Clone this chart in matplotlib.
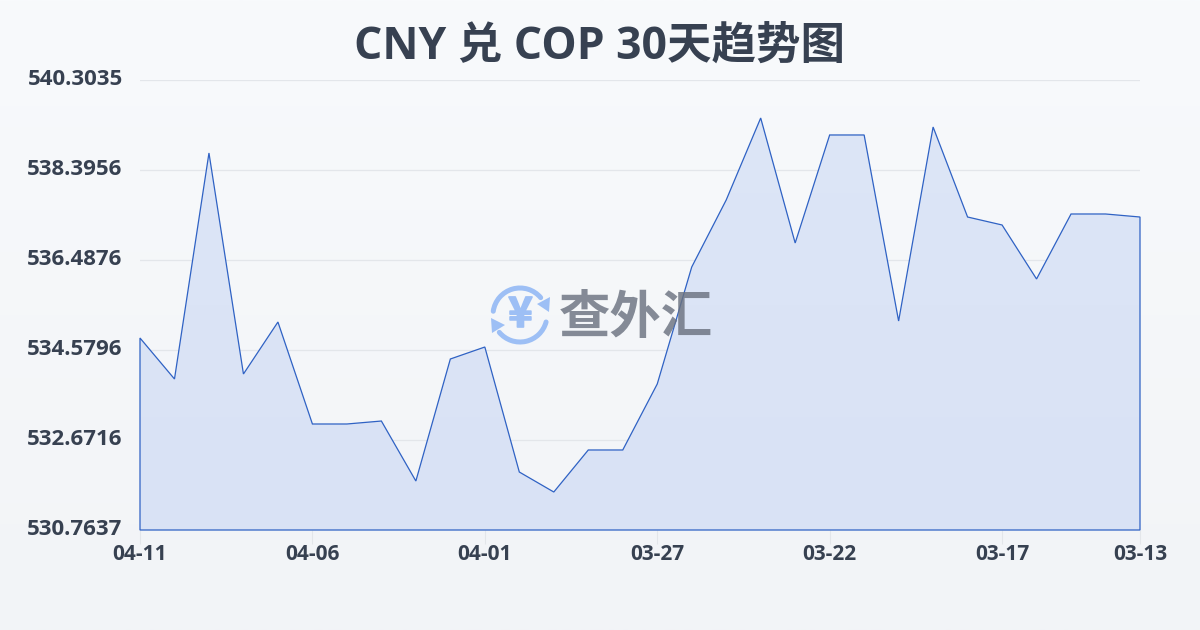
import numpy as np
import matplotlib
matplotlib.use("Agg")
import matplotlib.pyplot as plt
import matplotlib.patheffects as pe
from matplotlib.patches import Arc, Polygon
from matplotlib.colors import LinearSegmentedColormap
from matplotlib.transforms import ScaledTranslation

FONTS = ['Open Sans', 'Noto Sans CJK SC', 'DejaVu Sans']
plt.rcParams['font.family'] = FONTS

title = "CNY 兑 COP 30天趋势图"
dates = ["04-11", "04-10", "04-09", "04-08", "04-07", "04-06", "04-05", "04-04", "04-03", "04-02",
         "04-01", "03-31", "03-30", "03-29", "03-28", "03-27", "03-26", "03-25", "03-24", "03-23",
         "03-22", "03-21", "03-20", "03-19", "03-18", "03-17", "03-16", "03-15", "03-14", "03-13"]
rates = [534.834, 533.965, 538.756, 534.071, 535.173, 533.011, 533.011, 533.074, 531.802, 534.389,
         534.643, 531.993, 531.569, 532.460, 532.460, 533.859, 536.339, 537.760, 539.498, 536.848,
         539.138, 539.138, 535.194, 539.307, 537.399, 537.230, 536.085, 537.463, 537.463, 537.399]
y_ticks = [530.7637, 532.6716, 534.5796, 536.4876, 538.3956, 540.3035]
y_labels = ["530.7637", "532.6716", "534.5796", "536.4876", "538.3956", "540.3035"]

W, H = 1200, 630
fig = plt.figure(figsize=(W / 100, H / 100), dpi=100)

# page background
bg = fig.add_axes([0, 0, 1, 1], zorder=0)
bg.imshow(np.linspace(0, 1, 256).reshape(-1, 1), aspect='auto', extent=[0, 1, 0, 1],
          cmap=LinearSegmentedColormap.from_list('bg', ['#f8fafc', '#f2f4f7']))
bg.axis('off')

ax = fig.add_axes([140 / W, 1 - 530 / H, 1000 / W, 450 / H], zorder=1)
ax.patch.set_alpha(0)
x = np.arange(len(rates))
ax.set_xlim(0, len(rates) - 1)
ax.set_ylim(y_ticks[0], y_ticks[-1])

# gradient area under the line
verts = [(0, y_ticks[0])] + list(zip(x, rates)) + [(x[-1], y_ticks[0])]
grad = ax.imshow(np.linspace(0, 1, 256).reshape(-1, 1), aspect='auto',
                 extent=[0, x[-1], y_ticks[0], y_ticks[-1]], origin='upper', zorder=2,
                 cmap=LinearSegmentedColormap.from_list('area', ['#dde6f7', '#d9e2f5']))
area = Polygon(verts, closed=True, facecolor='none', edgecolor='#2f62c4', linewidth=0.9, zorder=3)
ax.add_patch(area)
grad.set_clip_path(area)
area.set_clip_on(False)

ticks = list(x[::5]) + ([x[-1]] if (len(x) - 1) % 5 else [])
ax.set_yticks(y_ticks)
ax.set_yticklabels(y_labels)
ax.set_xticks(ticks)
ax.set_xticklabels([dates[i] for i in ticks])
ax.grid(axis='y', color='#e3e6ea', linewidth=0.9, zorder=1)
ax.set_axisbelow(True)
for s in ax.spines.values():
    s.set_visible(False)
ax.tick_params(axis='y', length=0, pad=12.5, labelsize=16, labelcolor='#374151')
ax.tick_params(axis='x', length=10, width=0.8, color='#e3e6ea', pad=0,
               labelsize=15, labelcolor='#374151')
up = ScaledTranslation(0, 2 / 72, fig.dpi_scale_trans)
for t in ax.get_yticklabels():
    t.set_fontweight('bold')
    t.set_transform(t.get_transform() + up)
for t in ax.get_xticklabels():
    t.set_fontweight('bold')

fig.text(600 / W, 1 - 47 / H, title, ha='center', va='center', fontsize=32,
         fontweight='bold', color='#374151', family=FONTS)

# watermark logo
ov = fig.add_axes([0, 0, 1, 1], zorder=5)
ov.set_xlim(0, W); ov.set_ylim(H, 0); ov.axis('off'); ov.patch.set_alpha(0)
blue = '#9dbff5'
cx, cy, r = 520, 315, 27
ov.add_patch(Arc((cx, cy), 2 * r, 2 * r, theta1=188, theta2=320, color=blue, lw=3.6, capstyle='round'))
ov.add_patch(Arc((cx, cy), 2 * r, 2 * r, theta1=15, theta2=140, color=blue, lw=3.6, capstyle='round'))
ov.add_patch(Polygon([(550, 297), (549, 312), (537, 304)], closed=True, color=blue, lw=0))
ov.add_patch(Polygon([(491, 318), (505, 325), (492, 333)], closed=True, color=blue, lw=0))
ov.text(520.5, 315, "¥", ha='center', va='center', fontsize=30, fontweight='bold', color=blue,
        family=['Noto Sans CJK SC'],
        path_effects=[pe.withStroke(linewidth=1.2, foreground=blue)])
ov.text(635.5, 317, "查外汇", ha='center', va='center', fontsize=37, fontweight='bold',
        color='#6b7280', alpha=0.82, family=['Noto Sans CJK SC'])

fig.savefig('out.png', dpi=100)
